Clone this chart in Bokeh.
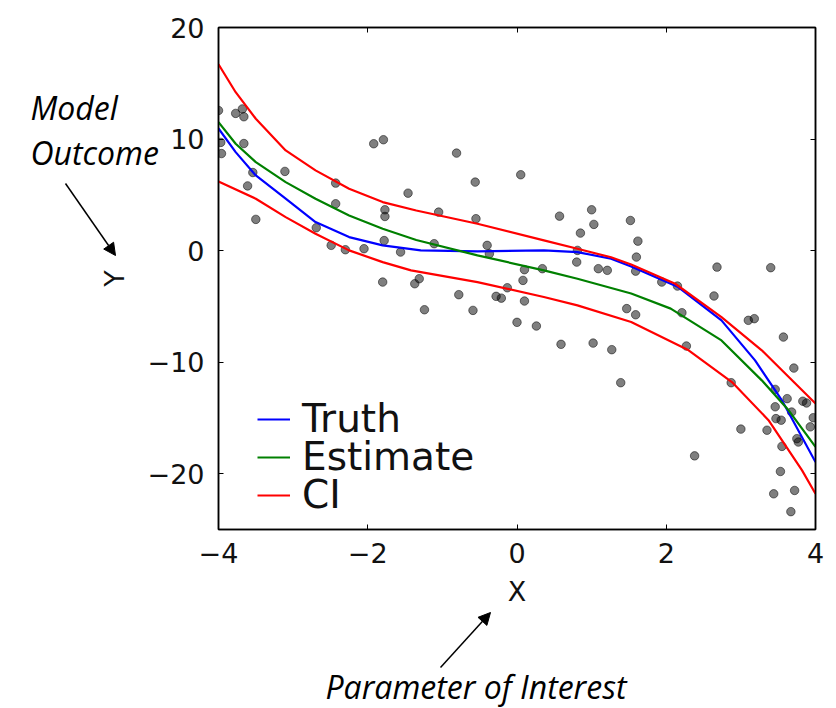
from bokeh.plotting import figure
from bokeh.models import (Range1d, FixedTicker, LinearAxis, Label, Arrow,
                          NormalHead, Legend, LegendItem)
from bokeh.embed import file_html
from bokeh.resources import INLINE

# ---------------- data ----------------
obs_x = [-4.00, -3.77, -3.68, -3.66, -3.97, -3.96, -3.66, -3.54, -3.61, -3.50,
         -3.11, -2.69, -2.49, -2.30, -2.43, -2.43, -2.05, -1.92, -1.79, -1.80,
         -1.77, -1.77, -1.78, -1.56, -1.46, -1.37, -1.31, -1.24, -1.05, -1.11,
         -0.81, -0.78, -0.59, -0.56, -0.55, -0.40, -0.37, -0.28, -0.21, -0.13,
         0.00, 0.05, 0.57, 1.00, 1.03, 0.85, 1.52, 1.62, 1.60, 1.59,
         0.81, 0.80, 1.09, 1.21, 0.10, 0.34, 0.08, 0.10, 0.26, 0.59,
         1.02, 1.27, 1.39, 1.47, 1.59, 1.94, 2.15, 2.21, 2.27, 2.68,
         2.64, 3.10, 3.18, 3.40, 3.57, 3.71, 2.87, 3.46, 3.62, 3.83,
         3.88, 3.46, 3.68, 3.47, 3.54, 3.97, 3.93, 3.00, 3.35, 3.75,
         3.77, 3.55, 2.38, 3.53, 3.72, 3.44, 3.67]
obs_y = [12.56, 12.3, 12.7, 12.0, 9.7, 8.7, 9.6, 7.0, 5.8, 2.8,
         7.1, 2.05, 0.47, 0.08, 6.05, 4.2, 0.17, 9.58, 9.94, -2.82,
         3.66, 3.06, 0.9, -0.13, 5.15, -2.97, -2.52, -5.3, 3.45, 0.62,
         8.74, -3.95, -5.36, 6.14, 2.86, 0.47, -0.28, -4.1, -4.26, -3.33,
         -6.43, 6.8, 3.09, 3.66, 2.35, 1.57, 2.7, 0.85, -0.58, -1.84,
         0.02, -1.03, -1.62, -1.77, -1.71, -1.62, -2.67, -4.52, -6.76, -8.4,
         -8.29, -8.88, -11.84, -5.2, -5.75, -2.82, -3.18, -5.57, -8.55, -1.48,
         -4.07, -6.25, -6.1, -1.53, -7.75, -10.53, -11.84, -12.44, -13.27, -13.5,
         -13.66, -14.0, -14.47, -15.06, -15.2, -14.98, -15.8, -16.0, -16.1, -16.86,
         -17.16, -17.55, -18.4, -19.8, -21.5, -21.8, -23.4]

truth_x = [-4.0, -3.77, -3.50, -3.10, -2.70, -2.25, -1.80, -1.29, -0.53, 0.36,
           0.81, 1.26, 1.53, 2.16, 2.74, 3.19, 3.55, 4.0]
truth_y = [10.95, 8.83, 6.74, 4.65, 2.56, 1.21, 0.47, 0.02, -0.07, 0.02,
           -0.13, -0.73, -1.42, -3.27, -6.25, -9.84, -13.42, -18.95]

est_x = [-4.0, -3.77, -3.50, -3.10, -2.70, -2.25, -1.80, -1.35, -0.53, 0.36,
         0.81, 1.53, 2.06, 2.74, 3.28, 3.64, 4.0]
est_y = [11.51, 9.58, 7.93, 6.14, 4.65, 3.15, 1.96, 0.95, -0.43, -1.77,
         -2.52, -3.85, -5.2, -8.05, -11.63, -14.32, -17.6]

ci_up_x = [-4.0, -3.77, -3.50, -3.10, -2.70, -2.25, -1.80, -1.35, -0.53, 0.36,
           0.81, 1.26, 1.53, 2.12, 2.74, 3.28, 4.0]
ci_up_y = [16.7, 14.2, 11.82, 8.98, 7.19, 5.54, 4.35, 3.6, 2.41, 0.92,
           0.17, -0.6, -1.25, -2.97, -5.96, -8.94, -13.7]

ci_lo_x = [-4.0, -3.50, -3.10, -2.70, -2.25, -1.80, -1.42, -0.53, 0.36, 0.81,
           1.53, 2.30, 2.88, 3.37, 3.82, 4.0]
ci_lo_y = [6.2, 4.65, 3.0, 1.51, 0.02, -1.03, -1.77, -2.82, -4.16, -4.91,
           -6.4, -8.94, -11.78, -15.2, -19.7, -21.8]

x_ticks = [-4, -2, 0, 2, 4]
x_tick_labels = ["\u22124", "\u22122", "0", "2", "4"]
y_ticks = [-20, -10, 0, 10, 20]
y_tick_labels = ["\u221220", "\u221210", "0", "10", "20"]
legend_labels = ["Truth", "Estimate", "CI"]

# ---------------- main figure ----------------
FW, FH = 597, 502
BL, BT, BR, BB = 218, 27, 13, 179
W, H = BL + FW + BR, BT + FH + BB

p = figure(frame_width=FW, frame_height=FH,
           x_range=Range1d(-4, 4), y_range=Range1d(-25, 20),
           output_backend="svg", toolbar_location=None,
           min_border_left=BL, min_border_right=BR,
           min_border_top=BT, min_border_bottom=BB,
           background_fill_color="white", border_fill_color="white")
p.xgrid.visible = False
p.ygrid.visible = False
p.outline_line_color = "black"
p.outline_line_width = 1.5

TICK_FONT = "DejaVu Sans"
def style_axis(ax, ticks, labels):
    ax.ticker = FixedTicker(ticks=ticks)
    ax.major_tick_in = 5
    ax.major_tick_out = 0
    ax.minor_tick_line_color = None
    ax.axis_line_color = "black"
    ax.axis_line_width = 1.5
    ax.major_tick_line_color = "black"
    ax.major_tick_line_width = 1
    ax.major_label_overrides = {t: l for t, l in zip(ticks, labels)}
    ax.major_label_text_font = TICK_FONT
    ax.major_label_text_font_size = "27px"
    ax.major_label_text_color = "#111111"
    ax.axis_label_text_font = TICK_FONT
    ax.axis_label_text_font_size = "27px"
    ax.axis_label_text_font_style = "normal"
    ax.axis_label_text_color = "#111111"

style_axis(p.xaxis[0], x_ticks, x_tick_labels)
style_axis(p.yaxis[0], y_ticks, y_tick_labels)
p.xaxis[0].axis_label = "X"
p.yaxis[0].axis_label = "Y"
p.xaxis[0].major_label_standoff = 13
p.yaxis[0].major_label_standoff = 14
p.xaxis[0].axis_label_standoff = 10
p.yaxis[0].axis_label_standoff = 15

# tick marks (no labels) on the top and right edges, as in the original
top_ax = LinearAxis()
right_ax = LinearAxis()
style_axis(top_ax, x_ticks, [""] * len(x_ticks))
style_axis(right_ax, y_ticks, [""] * len(y_ticks))
for ax in (top_ax, right_ax):
    ax.major_label_text_font_size = "1px"
    ax.major_label_standoff = 0
p.add_layout(top_ax, "above")
p.add_layout(right_ax, "right")

p.scatter(obs_x, obs_y, size=8.5, marker="circle", fill_color="black",
          fill_alpha=0.5, line_color="black", line_alpha=0.5, line_width=1)
r_truth = p.line(truth_x, truth_y, line_color="#0000ff", line_width=2.2)
r_est = p.line(est_x, est_y, line_color="#008000", line_width=2.2)
r_up = p.line(ci_up_x, ci_up_y, line_color="#ff0000", line_width=2.2)
r_lo = p.line(ci_lo_x, ci_lo_y, line_color="#ff0000", line_width=2.2)

# one legend block per entry, so the rows sit as tightly as in the original
for lbl, rend, ly in zip(legend_labels, [r_truth, r_est, r_up], [88, 50, 12]):
    lg = Legend(items=[LegendItem(label=lbl, renderers=[rend])],
                location=(39, ly), border_line_color=None,
                background_fill_alpha=0, padding=0, margin=0,
                glyph_width=33, glyph_height=20, label_standoff=12,
                label_text_font=TICK_FONT, label_text_font_size="39px",
                label_text_color="#111111")
    p.add_layout(lg)

# ---------------- transparent overlay (separate root) for the call-outs ----
ov = figure(frame_width=W, frame_height=H, x_range=Range1d(0, W),
            y_range=Range1d(H, 0), output_backend="svg",
            toolbar_location=None, min_border=0,
            x_axis_location=None, y_axis_location=None,
            background_fill_color=None, border_fill_color=None)
ov.outline_line_color = None
ov.xgrid.visible = False
ov.ygrid.visible = False

ANN_FONT = "Open Sans"
for txt, px, py in [("Model", 30, 107), ("Outcome", 30, 152),
                    ("Parameter of Interest", 325, 686)]:
    ov.add_layout(Label(x=px, y=py, text=txt, text_font=ANN_FONT,
                        text_font_style="italic", text_font_size="32px",
                        text_color="black", text_align="left",
                        text_baseline="alphabetic"))

for (x0, y0, x1, y1) in [(65, 183, 115, 255), (440, 667, 490, 612)]:
    ov.add_layout(Arrow(end=NormalHead(size=12, fill_color="black",
                                       line_color="black", line_width=1),
                        x_start=x0, y_start=y0, x_end=x1, y_end=y1,
                        line_color="black", line_width=1.5))

ov.margin = (-H, 0, 0, 0)

open("out.html", "w").write(file_html([p, ov], INLINE))
